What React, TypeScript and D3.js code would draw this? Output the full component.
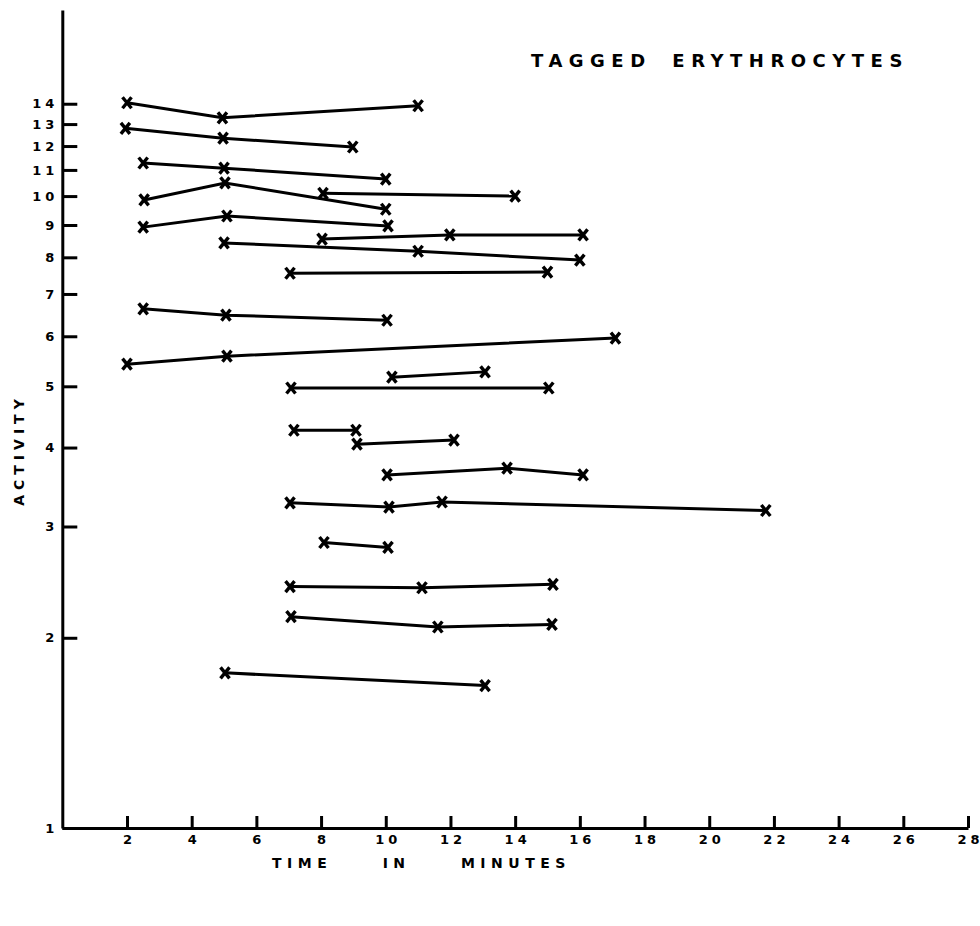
import { useEffect, useRef } from 'react';
import * as d3 from 'd3';

// Each run: sample times (minutes) and measured activity
const runTimes: number[][] = [
  [2.0, 4.95, 11.0],
  [1.95, 4.97, 8.98],
  [2.5, 5.0, 10.0],
  [2.53, 5.03, 10.0],
  [8.06, 14.0],
  [2.5, 5.09, 10.07],
  [8.03, 11.98, 16.1],
  [5.0, 11.0, 16.0],
  [7.04, 15.0],
  [2.5, 5.06, 10.04],
  [2.0, 5.09, 17.1],
  [10.19, 13.07],
  [7.07, 15.04],
  [7.16, 9.08],
  [9.11, 12.11],
  [10.04, 13.75, 16.1],
  [7.04, 10.1, 11.74, 21.75],
  [8.09, 10.07],
  [7.04, 11.12, 15.17],
  [7.07, 11.61, 15.14],
  [5.03, 13.07],
];

const runActivity: number[][] = [
  [14.05, 13.3, 13.9],
  [12.8, 12.35, 11.96],
  [11.28, 11.07, 10.64],
  [9.86, 10.49, 9.53],
  [10.1, 10.0],
  [8.93, 9.3, 8.97],
  [8.55, 8.68, 8.68],
  [8.43, 8.18, 7.92],
  [7.55, 7.58],
  [6.63, 6.48, 6.36],
  [5.42, 5.58, 5.96],
  [5.17, 5.27],
  [4.97, 4.97],
  [4.26, 4.26],
  [4.05, 4.11],
  [3.62, 3.71, 3.62],
  [3.27, 3.22, 3.28, 3.18],
  [2.83, 2.78],
  [2.41, 2.4, 2.43],
  [2.16, 2.08, 2.1],
  [1.76, 1.68],
];

const xTicks = [2, 4, 6, 8, 10, 12, 14, 16, 18, 20, 22, 24, 26, 28];
const yTicks = [1, 2, 3, 4, 5, 6, 7, 8, 9, 10, 11, 12, 13, 14];

const W = 980;
const H = 926;
const FONT = '"DejaVu Sans", sans-serif';

export default function App() {
  const svgRef = useRef<SVGSVGElement>(null);

  useEffect(() => {
    if (!svgRef.current) return;
    const svg = d3.select(svgRef.current);
    svg.selectAll('*').remove();

    const x = d3.scaleLinear().domain([0, 28]).range([62.3, 968]);
    const y = d3.scaleLog().domain([1, 19.7]).range([828, 10]);

    // x axis, ticks pointing up
    const xAxis = svg.append('g')
      .attr('transform', `translate(0, ${y(1)})`)
      .call(
        d3.axisBottom(x)
          .tickValues(xTicks)
          .tickSizeInner(-12)
          .tickSizeOuter(0)
          .tickPadding(7)
          .tickFormat(d => String(d))
      );

    // y axis, ticks pointing right
    const yAxis = svg.append('g')
      .attr('transform', `translate(${x(0)}, 0)`)
      .call(
        d3.axisLeft(y)
          .tickValues(yTicks)
          .tickSizeInner(-15)
          .tickSizeOuter(0)
          .tickPadding(8)
          .tickFormat(d => String(d))
      );

    [xAxis, yAxis].forEach(ax => {
      ax.attr('font-size', null);
      ax.select('.domain').attr('stroke', '#000').attr('stroke-width', 3);
      ax.selectAll('.tick line').attr('stroke', '#000').attr('stroke-width', 3);
      ax.selectAll('.tick text')
        .attr('fill', '#000')
        .attr('font-family', FONT)
        .attr('font-weight', 'bold')
        .attr('font-size', 13)
        .attr('letter-spacing', 4);
    });
    xAxis.selectAll('.tick text').attr('dx', 2);
    yAxis.selectAll('.tick text').attr('x', -4);

    // runs
    const line = d3.line<[number, number]>()
      .x(d => x(d[0]))
      .y(d => y(d[1]));

    const g = svg.append('g');
    runTimes.forEach((times, i) => {
      const pts: [number, number][] = times.map((t, j) => [t, runActivity[i][j]]);
      g.append('path')
        .attr('d', line(pts) || '')
        .attr('fill', 'none')
        .attr('stroke', '#000')
        .attr('stroke-width', 3);
      pts.forEach(p => {
        g.append('path')
          .attr('transform', `translate(${x(p[0])}, ${y(p[1])})`)
          .attr('d', 'M-4.5,-5.5L4.5,5.5M-4.5,5.5L4.5,-5.5')
          .attr('fill', 'none')
          .attr('stroke', '#000')
          .attr('stroke-width', 3.4);
      });
    });

    // title
    svg.append('text')
      .attr('x', 531)
      .attr('y', 67)
      .attr('font-family', FONT)
      .attr('font-weight', 'bold')
      .attr('font-size', 18)
      .attr('letter-spacing', 6.5)
      .attr('word-spacing', 8)
      .attr('fill', '#000')
      .text('TAGGED ERYTHROCYTES');

    // x label
    svg.append('text')
      .attr('x', 272)
      .attr('y', 868)
      .attr('font-family', FONT)
      .attr('font-weight', 'bold')
      .attr('font-size', 14)
      .attr('letter-spacing', 5.5)
      .attr('word-spacing', 40)
      .attr('fill', '#000')
      .text('TIME IN MINUTES');

    // y label
    svg.append('text')
      .attr('transform', 'translate(24, 450) rotate(-90)')
      .attr('text-anchor', 'middle')
      .attr('font-family', FONT)
      .attr('font-weight', 'bold')
      .attr('font-size', 14)
      .attr('letter-spacing', 5)
      .attr('fill', '#000')
      .text('ACTIVITY');
  }, []);

  return (
    <svg
      ref={svgRef}
      width={W}
      height={H}
      viewBox={`0 0 ${W} ${H}`}
      style={{ position: 'absolute', left: 0, top: 0, background: '#fff' }}
    />
  );
}
